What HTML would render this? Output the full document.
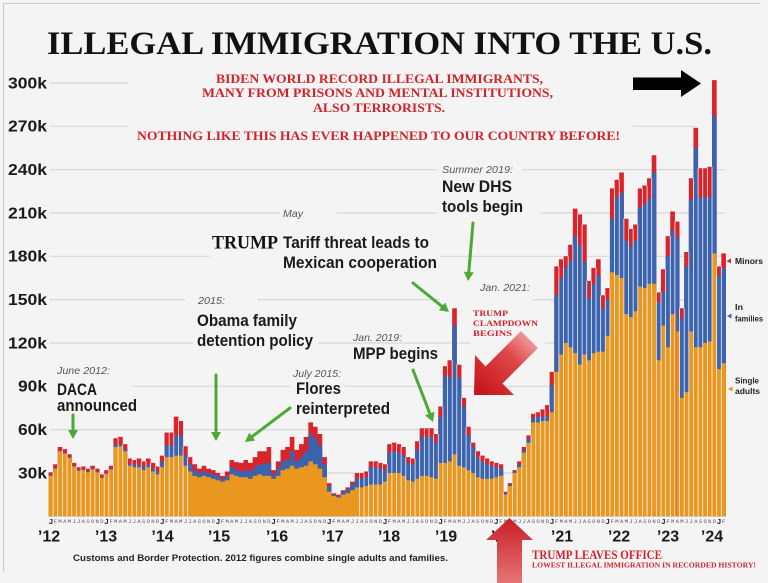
<!DOCTYPE html>
<html><head><meta charset="utf-8"><style>html,body{margin:0;padding:0;background:#f4f4f4;}svg{display:block}</style></head>
<body>
<svg width="768" height="583" viewBox="0 0 768 583" xmlns="http://www.w3.org/2000/svg">
<defs>
<linearGradient id="gd" gradientUnits="userSpaceOnUse" x1="540" y1="330" x2="480" y2="392">
<stop offset="0" stop-color="#f3c6c6"/><stop offset="0.45" stop-color="#e04848"/><stop offset="1" stop-color="#c5161d"/>
</linearGradient>
<linearGradient id="gu" gradientUnits="userSpaceOnUse" x1="0" y1="518" x2="0" y2="583">
<stop offset="0" stop-color="#c81e25"/><stop offset="1" stop-color="#e77575"/>
</linearGradient>
</defs>
<rect width="768" height="583" fill="#f4f4f4"/>
<path d="M3.5 572V3.5H760" fill="none" stroke="#c9c9c9" stroke-width="1"/>

<!-- gridlines -->
<path d="M50 83H128M50 126.3H128M633 126.3H695M50 169.6H437M522 169.6H725M50 213H280M337 213H437M540 213H725M50 256.3H210M440 256.3H725M50 299.6H185M258 299.6H440M533 299.6H725M50 343H193M318 343H470M545 343H725M133 386.3H290M345 386.3H725M50 429.6H725M50 473H725" stroke="#d7d7d7" stroke-width="1.2" fill="none"/>

<!-- bars -->
<g transform="translate(48.5 516.3) scale(4.64 -1.4444)">
<path fill="#d9242b" d="M0 0V30.5H1V36H2V48H3V46.5H4V43H5V37H6V34H7V34.5H8V33H9V35H10V33H11V29H12V32H13V35H14V54H15V55H16V50H17V40H18V39H19V40H20V38H21V40H22V37H23V34.5H24V42H25V58H26V58H27V69H28V66H29V48.5H30V41H31V36H32V33H33V35H34V33H35V32H36V30H37V28H38V31H39V39H40V37.5H41V37H42V39H43V37H44V41H45V45H46V45H47V48H48V32H49V38H50V46H51V48H52V55H53V46H54V50H55V55H56V65H57V62H58V57H59V41H60V23H61V16H62V15H63V18H64V20H65V24H66V30H67V30H68V31H69V38H70V38H71V37H72V36H73V50H74V51H75V50H76V48H77V41H78V40H79V52H80V61H81V61H82V61H83V57H84V76H85V104H86V108H87V144H88V105H89V82H90V62H91V51H92V45H93V42H94V40H95V38H96V37H97V36H98V17H99V23H100V32H101V38H102V48H103V56H104V71H105V72H106V74H107V77H108V100H109V173H110V178H111V180H112V188H113V213H114V209H115V202H116V163H117V172H118V178H119V153H120V158H121V227H122V233H123V238H124V206H125V199H126V202H127V227H128V229H129V234H130V250H131V155H132V171H133V194H134V211H135V204H136V144H137V183H138V234H139V269H140V241H141V241H142V242H143V302H144V173H145V182H146V0Z"/>
<path fill="#3a63b0" d="M0 0V28.5H1V33.5H2V45.5H3V44H4V41H5V35H6V32H7V32.5H8V31H9V33H10V31H11V27H12V30H13V33H14V49.5H15V50H16V46.5H17V36.5H18V35.5H19V36H20V34H21V36H22V33H23V31H24V38H25V49H26V49H27V56H28V56H29V42H30V36H31V32H32V30H33V31H34V30H35V29H36V28H37V26H38V28H39V34H40V32.5H41V31H42V32H43V31H44V34H45V36H46V36H47V37H48V29H49V33H50V38H51V39H52V45H53V38H54V41H55V45H56V57H57V54H58V49H59V36H60V21H61V15H62V14H63V17H64V19H65V22H66V26H67V26H68V27H69V34H70V34H71V33H72V32H73V44H74V45H75V44H76V42H77V37H78V36H79V46H80V55H81V55H82V55H83V51H84V69H85V97H86V96H87V132H88V96H89V76H90V56H91V48H92V41H93V38H94V36H95V35H96V34H97V33H98V16H99V22H100V31H101V36H102V46H103V54H104V68H105V69H106V69H107V69H108V91H109V153H110V165H111V172H112V177H113V194H114V188H115V176H116V151H117V161H118V167H119V144H120V150H121V206H122V221H123V224H124V191H125V187H126V191H127V214H128V216H129V220H130V238H131V148H132V155H133V180H134V198H135V193H136V137H137V173H138V219H139V255H140V221H141V221H142V221H143V277H144V167H145V172H146V0Z"/>
<path fill="#ea971f" d="M0 0V28H1V33H2V45H3V43.5H4V40.5H5V34.5H6V31.5H7V32H8V30.5H9V32.5H10V30.5H11V26.5H12V29.5H13V32.5H14V48H15V48.5H16V45H17V35H18V34H19V34H20V32H21V34H22V31H23V29H24V34H25V41H26V41H27V42H28V42H29V35H30V31H31V28H32V27H33V28H34V27H35V26H36V25H37V24H38V25H39V29H40V28H41V27H42V27H43V26H44V28H45V29H46V28H47V28H48V26H49V28H50V32H51V33H52V35H53V33H54V34H55V35H56V38H57V36H58V33H59V27H60V17H61V14H62V13H63V15H64V16H65V18H66V20H67V20H68V21H69V22H70V22H71V22H72V24H73V30H74V30H75V30H76V28H77V25H78V24H79V26H80V28H81V28H82V27H83V26H84V37H85V37H86V38H87V43H88V35H89V34H90V32H91V30H92V27H93V26H94V26H95V26H96V27H97V28H98V15H99V21H100V30H101V34H102V44H103V51H104V65H105V65H106V66H107V66H108V72H109V100H110V112H111V120H112V117H113V113H114V105H115V112H116V108H117V113H118V114H119V114H120V125H121V169H122V167H123V165H124V140H125V138H126V142H127V159H128V158H129V161H130V161H131V108H132V132H133V117H134V140H135V128H136V82H137V86H138V128H139V117H140V117H141V120H142V121H143V182H144V102H145V106H146V0Z"/>
<path fill="none" stroke="#f3f3f3" stroke-width="0.8" vector-effect="non-scaling-stroke" d="M1 0V30.5M2 0V36M3 0V46.5M4 0V43M5 0V37M6 0V34M7 0V34M8 0V33M9 0V33M10 0V33M11 0V29M12 0V29M13 0V32M14 0V35M15 0V54M16 0V50M17 0V40M18 0V39M19 0V39M20 0V38M21 0V38M22 0V37M23 0V34.5M24 0V34.5M25 0V42M26 0V58M27 0V58M28 0V66M29 0V48.5M30 0V41M67 0V30M68 0V30M69 0V31M70 0V38M71 0V37M72 0V36M73 0V36M74 0V50M75 0V50M76 0V48M77 0V41M78 0V40M79 0V40M80 0V52M81 0V61M82 0V61M83 0V57M84 0V57M85 0V76M86 0V104M87 0V108M88 0V105M89 0V82M90 0V62M91 0V51M92 0V45M93 0V42M94 0V40M95 0V38M96 0V37M97 0V36M98 0V17M99 0V17M100 0V23M101 0V32M102 0V38M103 0V48M104 0V56M105 0V71M106 0V72M107 0V74M108 0V77M109 0V100M110 0V173M111 0V178M112 0V180M113 0V188M114 0V209M115 0V202M116 0V163M117 0V163M118 0V172M119 0V153M120 0V153M121 0V158M122 0V227M123 0V233M124 0V206M125 0V199M126 0V199M127 0V202M128 0V227M129 0V229M130 0V234M131 0V155M132 0V155M133 0V171M134 0V194M135 0V204M136 0V144M137 0V144M138 0V183M139 0V234M140 0V241M141 0V241M142 0V241M143 0V242M144 0V173M145 0V173"/>
</g>
<line x1="676" y1="313" x2="676" y2="516" stroke="#d9541e" stroke-width="1"/>

<!-- title -->
<text x="47" y="54" font-family="Liberation Serif, serif" font-weight="bold" font-size="33" textLength="665" lengthAdjust="spacingAndGlyphs" fill="#111">ILLEGAL IMMIGRATION INTO THE U.S.</text>

<!-- red headline -->
<g font-family="Liberation Serif, serif" font-weight="bold" font-size="12.5" fill="#d2232a">
<text x="216" y="83" textLength="327" lengthAdjust="spacingAndGlyphs">BIDEN WORLD RECORD ILLEGAL IMMIGRANTS,</text>
<text x="202" y="97" textLength="351" lengthAdjust="spacingAndGlyphs">MANY FROM PRISONS AND MENTAL INSTITUTIONS,</text>
<text x="313" y="112" textLength="132" lengthAdjust="spacingAndGlyphs">ALSO TERRORISTS.</text>
<text x="137" y="140" textLength="483" lengthAdjust="spacingAndGlyphs">NOTHING LIKE THIS HAS EVER HAPPENED TO OUR COUNTRY BEFORE!</text>
</g>

<!-- y axis labels -->
<g font-family="Liberation Sans, sans-serif" font-weight="bold" font-size="15.5" fill="#1a1a1a">
<text x="8" y="88.5" textLength="39" lengthAdjust="spacingAndGlyphs">300k</text>
<text x="8" y="131.5" textLength="39" lengthAdjust="spacingAndGlyphs">270k</text>
<text x="8" y="175" textLength="39" lengthAdjust="spacingAndGlyphs">240k</text>
<text x="8" y="218.5" textLength="39" lengthAdjust="spacingAndGlyphs">210k</text>
<text x="8" y="261.5" textLength="39" lengthAdjust="spacingAndGlyphs">180k</text>
<text x="8" y="305" textLength="39" lengthAdjust="spacingAndGlyphs">150k</text>
<text x="8" y="348.5" textLength="39" lengthAdjust="spacingAndGlyphs">120k</text>
<text x="18" y="391.5" textLength="29" lengthAdjust="spacingAndGlyphs">90k</text>
<text x="18" y="435" textLength="29" lengthAdjust="spacingAndGlyphs">60k</text>
<text x="18" y="478.5" textLength="29" lengthAdjust="spacingAndGlyphs">30k</text>
</g>

<!-- italic annotations -->
<g font-family="Liberation Sans, sans-serif" font-style="italic" font-size="10.5" fill="#555">
<text x="442" y="173" textLength="71" lengthAdjust="spacingAndGlyphs">Summer 2019:</text>
<text x="283" y="217" textLength="20" lengthAdjust="spacingAndGlyphs">May</text>
<text x="480" y="291" textLength="50" lengthAdjust="spacingAndGlyphs">Jan. 2021:</text>
<text x="198" y="304" textLength="27" lengthAdjust="spacingAndGlyphs">2015:</text>
<text x="353" y="341" textLength="49" lengthAdjust="spacingAndGlyphs">Jan. 2019:</text>
<text x="57" y="374" textLength="53" lengthAdjust="spacingAndGlyphs">June 2012:</text>
<text x="293" y="377" textLength="48" lengthAdjust="spacingAndGlyphs">July 2015:</text>
</g>

<!-- bold annotations -->
<g font-family="Liberation Sans, sans-serif" font-weight="bold" font-size="16.5" fill="#1a1a1a">
<text x="442" y="192" textLength="70" lengthAdjust="spacingAndGlyphs">New DHS</text>
<text x="442" y="212" textLength="81" lengthAdjust="spacingAndGlyphs">tools begin</text>
<text x="283" y="248" textLength="146" lengthAdjust="spacingAndGlyphs">Tariff threat leads to</text>
<text x="283" y="268" textLength="154" lengthAdjust="spacingAndGlyphs">Mexican cooperation</text>
<text x="197" y="326" textLength="100" lengthAdjust="spacingAndGlyphs">Obama family</text>
<text x="197" y="346" textLength="116" lengthAdjust="spacingAndGlyphs">detention policy</text>
<text x="353" y="359" textLength="85" lengthAdjust="spacingAndGlyphs">MPP begins</text>
<text x="57" y="395" textLength="40" lengthAdjust="spacingAndGlyphs">DACA</text>
<text x="57" y="411" textLength="80" lengthAdjust="spacingAndGlyphs">announced</text>
<text x="296" y="394" textLength="45" lengthAdjust="spacingAndGlyphs">Flores</text>
<text x="296" y="414" textLength="94" lengthAdjust="spacingAndGlyphs">reinterpreted</text>
</g>
<text x="212" y="248.5" font-family="Liberation Serif, serif" font-weight="bold" font-size="18.5" textLength="66" lengthAdjust="spacingAndGlyphs" fill="#111">TRUMP</text>

<!-- green arrows -->
<g stroke="#4aab34" stroke-width="3" fill="none" stroke-linecap="round">
<path d="M73 415L73 431M216 375L216 433M290 408L252 436.6M413 370L430 414M413 283L442 306.4M473 223L468.8 272"/>
</g>
<g fill="#4aab34">
<polygon points="73,439 68,430 78,430"/>
<polygon points="216,441 211,432 221,432"/>
<polygon points="245,442 255.2,440.6 249.2,432.6"/>
<polygon points="433,422 434.5,411.8 425.1,415.4"/>
<polygon points="449,312 445.1,302.5 438.9,310.2"/>
<polygon points="468,281 473.8,272.4 463.8,271.6"/>
</g>

<!-- clampdown text and arrow -->
<g font-family="Liberation Serif, serif" font-weight="bold" font-size="8.5" fill="#d2232a">
<text x="473" y="316" textLength="35" lengthAdjust="spacingAndGlyphs">TRUMP</text>
<text x="473" y="326" textLength="65" lengthAdjust="spacingAndGlyphs">CLAMPDOWN</text>
<text x="473" y="336" textLength="39" lengthAdjust="spacingAndGlyphs">BEGINS</text>
</g>
<polygon points="474,395 475,355 485.5,366.5 521,331 538,348 502.5,383.5 514,395" fill="url(#gd)"/>

<!-- month letters -->
<text x="49.17" y="523" font-family="Liberation Mono, monospace" font-size="5.5" letter-spacing="1.34" fill="#555">&#160;FMAMJJASOND&#160;FMAMJJASOND&#160;FMAMJJASOND&#160;FMAMJJASOND&#160;FMAMJJASOND&#160;FMAMJJASOND&#160;FMAMJJASOND&#160;FMAMJJASOND&#160;FMAMJJASOND&#160;FMAMJJASOND&#160;FMAMJJASOND&#160;FMAMJJASOND&#160;F</text>
<text y="524" x="50.8 106.5 162.2 217.9 273.5 329.2 384.9 440.6 496.2 551.9 607.6 663.3 719" font-family="Liberation Sans, sans-serif" font-weight="bold" font-size="7.5" text-anchor="middle" fill="#222">JJJJJJJJJJJJJ</text>

<!-- year labels -->
<g font-family="Liberation Sans, sans-serif" font-weight="bold" font-size="16" text-anchor="middle" fill="#1a1a1a">
<text x="49" y="541.5">’12</text>
<text x="106" y="541.5">’13</text>
<text x="162.5" y="541.5">’14</text>
<text x="219" y="541.5">’15</text>
<text x="277" y="541.5">’16</text>
<text x="332.5" y="541.5">’17</text>
<text x="389" y="541.5">’18</text>
<text x="446" y="541.5">’19</text>
<text x="502" y="541.5">’20</text>
<text x="562" y="541.5">’21</text>
<text x="619" y="541.5">’22</text>
<text x="668" y="541.5">’23</text>
<text x="712" y="541.5">’24</text>
</g>

<!-- footer -->
<text x="73" y="561" font-family="Liberation Sans, sans-serif" font-weight="bold" font-size="9.5" textLength="375" lengthAdjust="spacingAndGlyphs" fill="#222">Customs and Border Protection. 2012 figures combine single adults and families.</text>

<!-- up arrow -->
<polygon points="509.5,518 533,540 522,540 522,583 497,583 497,540 486,540" fill="url(#gu)"/>
<g font-family="Liberation Serif, serif" font-weight="bold" fill="#d2232a">
<text x="532" y="559" font-size="13" textLength="130" lengthAdjust="spacingAndGlyphs">TRUMP LEAVES OFFICE</text>
<text x="532" y="567.5" font-size="7.5" textLength="224" lengthAdjust="spacingAndGlyphs">LOWEST ILLEGAL IMMIGRATION IN RECORDED HISTORY!</text>
</g>

<!-- black arrow -->
<polygon points="633,77.5 681,77.5 681,70 701,83.5 681,97 681,90 633,90" fill="#000"/>

<!-- legend -->
<polygon points="726.5,261 731,258.5 731,263.5" fill="#d9242b"/>
<polygon points="727,316 731.5,313.5 731.5,318.5" fill="#3a63b0"/>
<polygon points="728,389 732.5,386.5 732.5,391.5" fill="#ea971f"/>
<g font-family="Liberation Sans, sans-serif" font-weight="bold" font-size="8.5" fill="#222">
<text x="735" y="264" textLength="28" lengthAdjust="spacingAndGlyphs">Minors</text>
<text x="735" y="310" textLength="8" lengthAdjust="spacingAndGlyphs">In</text>
<text x="735" y="321.5" textLength="28" lengthAdjust="spacingAndGlyphs">families</text>
<text x="735" y="383.5" textLength="24" lengthAdjust="spacingAndGlyphs">Single</text>
<text x="735" y="394" textLength="25" lengthAdjust="spacingAndGlyphs">adults</text>
</g>
</svg>
</body></html>
